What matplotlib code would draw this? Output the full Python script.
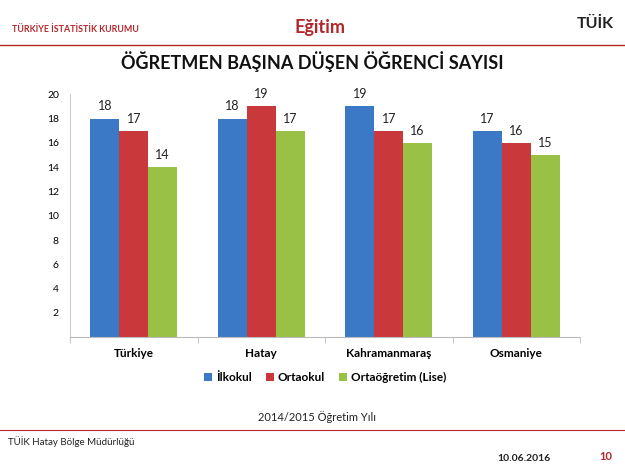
import numpy as np
import matplotlib.pyplot as plt

plt.rcParams['font.family'] = ['Lato', 'DejaVu Sans']

# data
regions = ['Türkiye', 'Hatay', 'Kahramanmaraş', 'Osmaniye']
ilkokul = [18, 18, 19, 17]
ortaokul = [17, 19, 17, 16]
lise = [14, 17, 16, 15]
series_names = ['İlkokul', 'Ortaokul', 'Ortaöğretim (Lise)']
colors = ['#3b78c6', '#c9383a', '#98c146']

fig = plt.figure(figsize=(6.25, 4.69), dpi=100)
fig.patch.set_facecolor('white')

# header
dark_red = '#b3262b'
fig.text(0.02, 0.938, 'TÜRKİYE İSTATİSTİK KURUMU', color=dark_red, fontsize=6.4,
         fontweight='bold', va='center')
fig.text(0.512, 0.942, 'Eğitim', color=dark_red, fontsize=13, fontweight='bold',
         ha='center', va='center')
fig.text(0.952, 0.948, 'TÜİK', color='#222222', fontsize=11.5, fontweight='bold',
         ha='center', va='center')
fig.add_artist(plt.Line2D([0.0, 1.0], [0.904, 0.904], color=dark_red, lw=1.0))
fig.text(0.5, 0.868, 'ÖĞRETMEN BAŞINA DÜŞEN ÖĞRENCİ SAYISI', fontsize=13,
         fontweight='bold', ha='center', va='center', color='#111111')

# chart
ax = fig.add_axes([0.112, 0.281, 0.816, 0.518])
x = np.arange(len(regions))
w = 0.227
for i, (vals, name) in enumerate(zip([ilkokul, ortaokul, lise], series_names)):
    bars = ax.bar(x + (i - 1) * w, vals, width=w, color=colors[i], label=name)
    for b, v in zip(bars, vals):
        ax.text(b.get_x() + b.get_width() / 2, v + 0.5, str(v), ha='center',
                va='bottom', fontsize=9, color='#222222')

ax.set_xlim(-0.5, len(regions) - 0.5)
ax.set_ylim(0, 20)
ax.set_yticks(range(2, 21, 2))
ax.tick_params(axis='y', length=0, labelsize=7.5, pad=8)
ax.set_xticks(x)
ax.set_xticklabels(regions, fontweight='bold', fontsize=8.5)
ax.tick_params(axis='x', length=0, pad=8)
ax.set_xticks(np.arange(-0.5, len(regions)), minor=True)
ax.tick_params(axis='x', which='minor', length=4, color='#bbbbbb', direction='out')
for s in ['top', 'right']:
    ax.spines[s].set_visible(False)
ax.spines['left'].set_color('#cccccc')
ax.spines['bottom'].set_color('#bbbbbb')

leg = ax.legend(loc='upper center', bbox_to_anchor=(0.5, -0.1), ncol=3, frameon=False,
                handlelength=0.7, handleheight=0.7, handletextpad=0.3, columnspacing=1.2,
                prop={'weight': 'bold', 'size': 8.5})

fig.text(0.508, 0.11, '2014/2015 Öğretim Yılı', fontsize=8, ha='center', va='center',
         color='#222222')

# footer
fig.add_artist(plt.Line2D([0.0, 1.0], [0.083, 0.083], color=dark_red, lw=0.8))
fig.text(0.012, 0.058, 'TÜİK Hatay Bölge Müdürlüğü', fontsize=7, color='#222222',
         va='center')
fig.text(0.795, 0.023, '10.06.2016', fontsize=7.5, fontweight='bold', color='#222222',
         va='center')
fig.text(0.97, 0.027, '10', fontsize=8, fontweight='bold', color=dark_red,
         ha='center', va='center')

fig.savefig('out.png', dpi=100)
